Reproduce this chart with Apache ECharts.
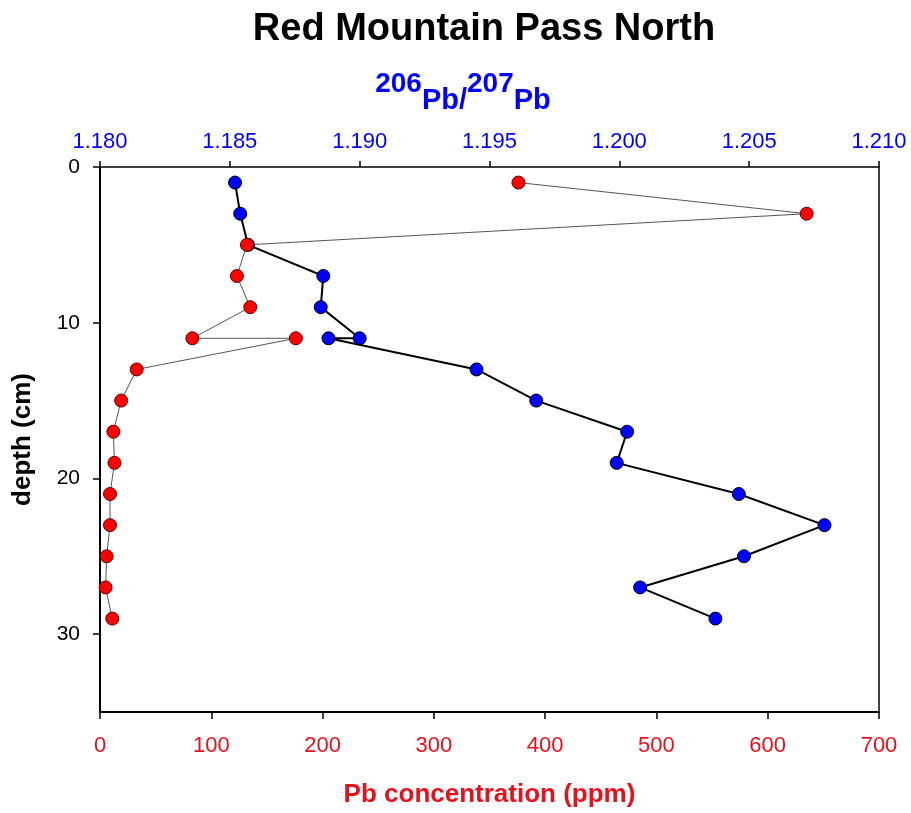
<!DOCTYPE html>
<html><head><meta charset="utf-8">
<script src="https://cdn.jsdelivr.net/npm/echarts@6/dist/echarts.min.js"></script>
<style>html,body{margin:0;padding:0;background:#fff}#c{width:911px;height:813px}</style>
</head><body><div id="c"></div>
<script>
// depth (cm)
const ratioDepth = [1, 3, 5, 7, 9, 11, 11, 13, 15, 17, 19, 21, 23, 25, 27, 29];
// 206Pb/207Pb
const ratioValues = [1.1852, 1.1854, 1.1857, 1.1886, 1.1885, 1.1900, 1.1888, 1.1945, 1.1968, 1.2003, 1.1999, 1.2046, 1.2079, 1.2048, 1.2008, 1.2037];
const concDepth = [1, 3, 5, 7, 9, 11, 11, 13, 15, 17, 19, 21, 23, 25, 27, 29];
// Pb concentration (ppm)
const concValues = [376, 635, 132, 123, 135, 83, 176, 33, 19, 12, 13, 9, 9, 6, 5, 11];
const topTicks = [1.180, 1.185, 1.190, 1.195, 1.200, 1.205, 1.210];
const depthTicks = [0, 10, 20, 30];

const chart = echarts.init(document.getElementById('c'));
const font = 'Liberation Sans, Arial, sans-serif';
const red = '#e8101a';
chart.setOption({
  animation: false,
  backgroundColor: '#fff',
  title: [
    {text: 'Red Mountain Pass North', left: 479, textAlign: 'center', top: 6,
     textStyle: {fontFamily: font, fontWeight: 'bold', fontSize: 38, color: '#000'}},
    {text: '{sup|206}{pb|Pb/}{sup|207}{pb|Pb}', left: 458, top: 65, textAlign: 'center',
     textStyle: {rich: {
       sup: {fontFamily: font, fontWeight: 'bold', fontSize: 28, color: '#0000ff', verticalAlign: 'bottom', padding: [0,0,17,0]},
       pb: {fontFamily: font, fontWeight: 'bold', fontSize: 29, color: '#0000ff', verticalAlign: 'bottom'}
     }}}
  ],
  grid: {left: 100, right: 32, top: 167, bottom: 100},
  xAxis: [
    {type: 'value', position: 'bottom', min: 0, max: 700, interval: 100,
     name: 'Pb concentration (ppm)', nameLocation: 'middle', nameGap: 70,
     nameTextStyle: {fontFamily: font, fontWeight: 'bold', fontSize: 26, color: red},
     axisLine: {show: true, onZero: false, lineStyle: {color: '#000', width: 2}},
     axisTick: {show: true, inside: false, length: 7, lineStyle: {color: '#000', width: 1.5}},
     axisLabel: {fontFamily: font, fontSize: 22, color: red, margin: 23},
     splitLine: {show: false}},
    {type: 'value', position: 'top', min: 1.180, max: 1.210, interval: 0.005,
     axisLine: {show: true, onZero: false, lineStyle: {color: '#000', width: 1.5}},
     axisTick: {show: true, inside: false, length: 6, lineStyle: {color: '#000', width: 1.5}},
     axisLabel: {fontFamily: font, fontSize: 22, color: '#0000ff', margin: 14,
       formatter: v => { const t = topTicks.find(x => Math.abs(x - v) < 1e-6); return (t !== undefined ? t : v).toFixed(3); }},
     splitLine: {show: false}}
  ],
  yAxis: [
    {type: 'value', inverse: true, min: 0, max: 35, interval: 10, position: 'left',
     name: 'depth (cm)', nameLocation: 'middle', nameGap: 64, nameRotate: 90,
     nameTextStyle: {fontFamily: font, fontWeight: 'bold', fontSize: 26, color: '#000'},
     axisLine: {show: true, onZero: false, lineStyle: {color: '#000', width: 2}},
     axisTick: {show: true, inside: false, length: 7, customValues: depthTicks, lineStyle: {color: '#000', width: 1.5}},
     axisLabel: {fontFamily: font, fontSize: 21, color: '#000', margin: 20, customValues: depthTicks},
     splitLine: {show: false}},
    {type: 'value', inverse: true, min: 0, max: 35, position: 'right',
     axisLine: {show: true, onZero: false, lineStyle: {color: '#000', width: 1.5}},
     axisTick: {show: false}, axisLabel: {show: false}, splitLine: {show: false}}
  ],
  series: [
    {type: 'line', name: 'ratio', xAxisIndex: 1, yAxisIndex: 0,
     data: ratioValues.map((v, i) => [v, ratioDepth[i]]),
     symbol: 'circle', symbolSize: 13,
     itemStyle: {color: '#0000ff', borderColor: '#000', borderWidth: 1},
     lineStyle: {color: '#000', width: 2}, z: 2},
    {type: 'line', name: 'conc', xAxisIndex: 0, yAxisIndex: 0,
     data: concValues.map((v, i) => [v, concDepth[i]]),
     symbol: 'circle', symbolSize: 13,
     itemStyle: {color: '#ff0000', borderColor: '#600', borderWidth: 1},
     lineStyle: {color: '#555', width: 1}, z: 3}
  ]
});
</script></body></html>
